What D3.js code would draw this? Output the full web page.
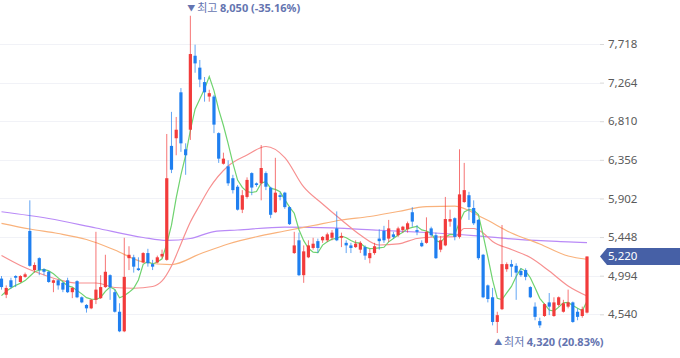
<!DOCTYPE html>
<html><head><meta charset="utf-8">
<script src="https://cdn.jsdelivr.net/npm/d3@7"></script>
<style>html,body{margin:0;padding:0;background:#fff;}svg{display:block;}</style>
</head><body>
<svg id="c" width="680" height="358"></svg>
<script>
// ---- data ----
const open  = [4960,4770,4940,4990,4920,4980,5520,5060,5200,5070,5040,4910,4940,4910,4940,4800,4930,4740,4650,4610,4710,4730,4860,5000,4800,4570,4340,5200,5210,5080,5150,5260,5130,5150,5220,5180,6520,6610,7150,6480,6710,7580,7440,7270,7100,7100,6670,6310,6280,6140,6040,5770,5920,6200,6080,6080,6200,6030,5740,5940,5970,5800,5260,5410,5000,5210,5320,5400,5410,5410,5440,5550,5440,5380,5350,5330,5300,5330,5200,5260,5430,5520,5430,5480,5470,5530,5540,5740,5530,5380,5380,5550,5470,5300,5350,5630,5670,5450,5860,5940,5790,5650,5240,4880,4740,4450,4600,5070,5130,5110,5050,5060,4860,4630,4460,4520,4680,4520,4650,4570,4630,4680,4570,4520,4560];
const high  = [4990,4880,4970,5000,5000,5030,5880,5150,5210,5080,5050,4950,4950,4920,4970,4860,4940,4750,4660,4720,5510,5000,5240,5010,4830,4670,5440,5340,5240,5210,5270,5310,5180,5230,5300,6660,6920,6860,7200,6550,8050,7710,7530,7330,7180,7120,6680,6440,6350,6180,6060,6000,6150,6210,6090,6530,6220,6040,6380,5970,5980,5810,5510,5500,5350,5410,5440,5430,5460,5500,5530,5750,5500,5410,5380,5410,5400,5350,5310,5380,5540,5580,5650,5510,5570,5580,5630,5800,5590,5410,5680,5570,5500,5460,5920,5770,5680,6480,6320,5980,5880,5660,5250,4890,4850,4570,5590,5150,5180,5140,5080,5080,4870,4680,4500,4670,4790,4740,4750,4710,4830,4690,4610,4630,5220];
const low   = [4830,4730,4840,4860,4910,4970,5100,5030,5000,5000,4910,4800,4830,4800,4790,4730,4730,4670,4560,4600,4660,4720,4850,4710,4560,4330,4330,5060,5030,5050,5140,5100,5060,5140,5200,5170,6200,6410,6450,6180,6590,7380,7210,7040,7040,6670,6320,6300,6050,5960,5760,5730,5900,5940,6040,5880,6000,5670,5730,5880,5780,5590,5250,4990,4910,5200,5300,5260,5380,5390,5410,5400,5330,5260,5260,5320,5260,5180,5140,5240,5300,5380,5390,5430,5450,5500,5500,5570,5470,5330,5370,5450,5190,5270,5340,5570,5410,5430,5850,5650,5590,5180,4730,4680,4410,4320,4590,5040,4980,4710,4980,4940,4730,4470,4380,4510,4530,4510,4630,4560,4610,4440,4470,4500,4550];
const close = [4860,4850,4860,4970,4990,5010,5110,5120,5060,5040,4920,4940,4880,4830,4800,4850,4740,4680,4610,4710,4830,4860,5040,4860,4570,4340,4980,5240,5100,5060,5260,5140,5100,5210,5250,6140,6240,6710,6550,6410,7600,7490,7300,7150,7140,6770,6370,6370,6080,6000,5770,5940,6120,6030,6060,6260,6040,5710,5970,5920,5800,5600,5350,5000,5280,5350,5370,5320,5450,5480,5500,5410,5460,5350,5320,5370,5380,5230,5260,5340,5400,5410,5550,5450,5550,5570,5610,5630,5510,5340,5510,5470,5200,5410,5660,5660,5450,5950,6000,5800,5610,5200,4740,4720,4450,4530,5130,5130,5100,5030,5000,4980,4740,4510,4410,4660,4630,4680,4740,4670,4680,4450,4510,4600,5220];
// moving-average lines as drawn in the reference ([candle index, value])
const ma5 = [4760,4810,4850,4880,4906,4936,4988,5040,5058,5068,5050,5016,4968,4922,4874,4860,4820,4780,4736,4718,4714,4738,4810,4860,4832,4734,4758,4798,4846,4944,5128,5160,5132,5154,5192,5368,5588,5910,6178,6410,6702,6952,7070,7190,7336,7170,6946,6760,6546,6318,6118,6032,5982,5972,5984,6082,6102,6020,6008,5980,5888,5800,5728,5534,5406,5316,5270,5264,5354,5394,5424,5432,5460,5440,5408,5382,5376,5330,5312,5316,5322,5328,5392,5430,5472,5506,5546,5562,5574,5532,5520,5492,5406,5386,5450,5480,5476,5626,5744,5772,5762,5712,5470,5214,4944,4728,4714,4792,4868,4984,5078,5048,4970,4852,4728,4660,4590,4578,4624,4676,4680,4644,4610,4582,4692];
const ma20 = [[0,5231],[4,5114],[8,5022],[12,4949],[16,4908],[20,4908],[24,4855],[28,4846],[32,4867],[34,4932],[36,5108],[38,5367],[40,5625],[42,5825],[44,6019],[48,6284],[52,6413],[56,6513],[60,6383],[64,6037],[68,5837],[72,5649],[76,5472],[80,5355],[84,5367],[88,5431],[92,5449],[96,5452],[98,5549],[100,5549],[102,5496],[104,5396],[108,5302],[112,5208],[116,5049],[120,4873],[124,4755]];
const ma60 = [[0,5610],[6,5543],[12,5490],[18,5419],[24,5296],[30,5155],[36,5125],[42,5249],[48,5367],[54,5452],[60,5519],[66,5584],[72,5649],[78,5690],[84,5749],[90,5807],[96,5813],[102,5672],[108,5496],[114,5367],[120,5225],[124,5187]];
const ma120 = [[0,5746],[10,5666],[20,5555],[30,5443],[35,5408],[40,5431],[45,5513],[50,5531],[60,5566],[70,5557],[80,5528],[90,5502],[100,5466],[110,5418],[120,5392],[124,5383]];
const tickValues = [4540,4994,5448,5902,6356,6810,7264,7718];
const highLabel = "최고", lowLabel = "최저";

// ---- drawing ----
const svg = d3.select("#c");
const W = 680, plotRight = 600;
const x = d3.scaleLinear().domain([0, close.length - 1]).range([1.5, 587]);
const y = d3.scaleLinear().domain([4540, 7718]).range([314.3, 44]);
const fmt = d3.format(",");

// grid
svg.append("g").selectAll("line").data(tickValues).join("line")
  .attr("x1", 0).attr("x2", plotRight)
  .attr("y1", d => Math.round(y(d)) + 0.5).attr("y2", d => Math.round(y(d)) + 0.5)
  .attr("stroke", "#f1f2f7").attr("stroke-width", 1);

// right axis
const axis = d3.axisRight(y).tickValues(tickValues).tickSize(4).tickPadding(4).tickFormat(fmt);
const ag = svg.append("g").attr("transform", `translate(${plotRight},0)`).call(axis);
ag.select(".domain").remove();
ag.selectAll(".tick line").attr("stroke", "#d8d8d8");
ag.selectAll(".tick text").attr("fill", "#5a5a5a").style("font-family", "'Noto Sans', 'Open Sans', sans-serif").style("font-size", "11.5px");

// MA lines
const lineIdx = d3.line().x((d, i) => x(i)).y(d => y(d));
const linePair = d3.line().x(d => x(d[0])).y(d => y(d[1])).curve(d3.curveMonotoneX);
svg.append("path").attr("d", linePair(ma120)).attr("fill", "none").attr("stroke", "#b98af7").attr("stroke-width", 1.2);
svg.append("path").attr("d", linePair(ma60)).attr("fill", "none").attr("stroke", "#f9b27c").attr("stroke-width", 1.2);
svg.append("path").attr("d", linePair(ma20)).attr("fill", "none").attr("stroke", "#f79090").attr("stroke-width", 1.2);
svg.append("path").attr("d", lineIdx(ma5)).attr("fill", "none").attr("stroke", "#6fd36f").attr("stroke-width", 1.2);

// candles
const up = "#f23b3b", down = "#1f7ff0";
const idx = d3.range(close.length);
const cg = svg.append("g");
cg.selectAll("line").data(idx).join("line")
  .attr("x1", i => x(i)).attr("x2", i => x(i))
  .attr("y1", i => y(high[i])).attr("y2", i => y(low[i]))
  .attr("stroke", i => close[i] >= open[i] ? up : down)
  .attr("stroke-opacity", 0.7).attr("stroke-width", 1);
cg.selectAll("rect").data(idx).join("rect")
  .attr("x", i => x(i) - 1.6).attr("width", 3.2)
  .attr("y", i => y(Math.max(open[i], close[i])))
  .attr("height", i => Math.max(1, Math.abs(y(open[i]) - y(close[i]))))
  .attr("fill", i => close[i] >= open[i] ? up : down);

// high / low markers
const last = close[close.length - 1];
const hiI = d3.maxIndex(high), loI = d3.minIndex(low);
const pct = v => v.toFixed(2) + "%";
function marker(i, yy, arrow, label, val) {
  const t = svg.append("text").attr("x", x(i) - 3).attr("y", yy)
    .attr("dominant-baseline", "middle")
    .style("font-family", "'Noto Sans CJK KR', 'Noto Sans', sans-serif").style("font-size", "11px")
    .attr("fill", "#6474b0");
  t.append("tspan").style("font-size", "8px").text(arrow + " ");
  t.append("tspan").text(label + " ");
  t.append("tspan").attr("font-weight", "bold").style("font-family", "'Noto Sans', sans-serif")
    .text(fmt(val) + " (" + pct((last / val - 1) * 100) + ")");
}
marker(hiI, 9, "▼", highLabel, high[hiI]);
marker(loI, 343, "▲", lowLabel, low[loI]);

// last price tag
const ly = y(last);
svg.append("path")
  .attr("d", `M${plotRight},${ly} L${plotRight + 7},${ly - 8.5} L${W},${ly - 8.5} L${W},${ly + 8.5} L${plotRight + 7},${ly + 8.5} Z`)
  .attr("fill", "#4660a6");
svg.append("text").attr("x", plotRight + 8).attr("y", ly).attr("dominant-baseline", "middle")
  .attr("fill", "#fff").style("font-family", "'Noto Sans', sans-serif").style("font-size", "11.5px")
  .text(fmt(last));
</script>
</body></html>
